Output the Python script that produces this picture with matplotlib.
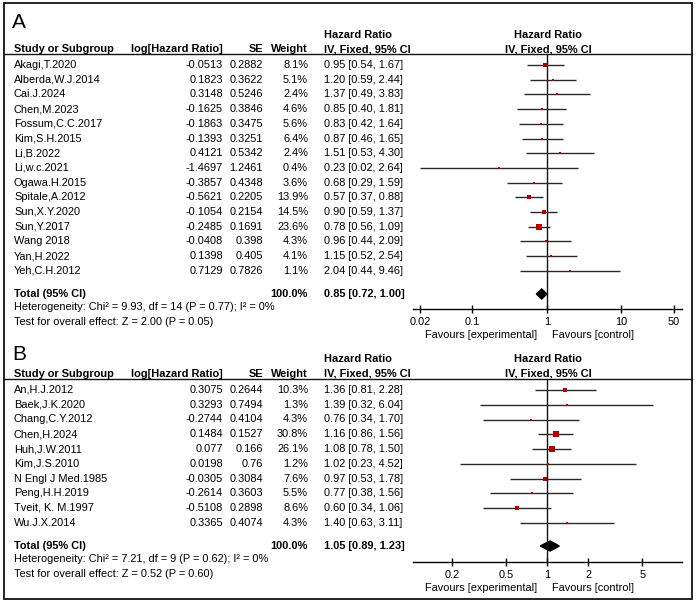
import matplotlib
matplotlib.use('Agg')
import numpy as np
import matplotlib.pyplot as plt
from matplotlib.patches import Rectangle, Polygon

plt.rcParams['font.family'] = ['Liberation Sans', 'DejaVu Sans']

# ---------------- Data: panel A ----------------
studies_A = ["Akagi,T.2020", "Alberda,W.J.2014", "Cai.J.2024", "Chen,M.2023",
             "Fossum,C.C.2017", "Kim,S.H.2015", "Li,B.2022", "Li,w.c.2021",
             "Ogawa.H.2015", "Spitale,A.2012", "Sun,X.Y.2020", "Sun,Y.2017",
             "Wang 2018", "Yan,H.2022", "Yeh,C.H.2012"]
loghr_A = [-0.0513, 0.1823, 0.3148, -0.1625, -0.1863, -0.1393, 0.4121, -1.4697,
           -0.3857, -0.5621, -0.1054, -0.2485, -0.0408, 0.1398, 0.7129]
se_A = [0.2882, 0.3622, 0.5246, 0.3846, 0.3475, 0.3251, 0.5342, 1.2461,
        0.4348, 0.2205, 0.2154, 0.1691, 0.398, 0.405, 0.7826]
weight_A = [8.1, 5.1, 2.4, 4.6, 5.6, 6.4, 2.4, 0.4, 3.6, 13.9, 14.5, 23.6, 4.3, 4.1, 1.1]
hr_A = [0.95, 1.20, 1.37, 0.85, 0.83, 0.87, 1.51, 0.23, 0.68, 0.57, 0.90, 0.78, 0.96, 1.15, 2.04]
lo_A = [0.54, 0.59, 0.49, 0.40, 0.42, 0.46, 0.53, 0.02, 0.29, 0.37, 0.59, 0.56, 0.44, 0.52, 0.44]
hi_A = [1.67, 2.44, 3.83, 1.81, 1.64, 1.65, 4.30, 2.64, 1.59, 0.88, 1.37, 1.09, 2.09, 2.54, 9.46]
total_A = (0.85, 0.72, 1.00)
hetero_A = "Heterogeneity: Chi² = 9.93, df = 14 (P = 0.77); I² = 0%"
test_A = "Test for overall effect: Z = 2.00 (P = 0.05)"
ticks_A = [0.02, 0.1, 1, 10, 50]
ticklabels_A = ["0.02", "0.1", "1", "10", "50"]

# ---------------- Data: panel B ----------------
studies_B = ["An,H.J.2012", "Baek,J.K.2020", "Chang,C.Y.2012", "Chen,H.2024",
             "Huh,J.W.2011", "Kim,J.S.2010", "N Engl J Med.1985", "Peng,H.H.2019",
             "Tveit, K. M.1997", "Wu.J.X.2014"]
loghr_B = [0.3075, 0.3293, -0.2744, 0.1484, 0.077, 0.0198, -0.0305, -0.2614, -0.5108, 0.3365]
se_B = [0.2644, 0.7494, 0.4104, 0.1527, 0.166, 0.76, 0.3084, 0.3603, 0.2898, 0.4074]
weight_B = [10.3, 1.3, 4.3, 30.8, 26.1, 1.2, 7.6, 5.5, 8.6, 4.3]
hr_B = [1.36, 1.39, 0.76, 1.16, 1.08, 1.02, 0.97, 0.77, 0.60, 1.40]
lo_B = [0.81, 0.32, 0.34, 0.86, 0.78, 0.23, 0.53, 0.38, 0.34, 0.63]
hi_B = [2.28, 6.04, 1.70, 1.56, 1.50, 4.52, 1.78, 1.56, 1.06, 3.11]
total_B = (1.05, 0.89, 1.23)
hetero_B = "Heterogeneity: Chi² = 7.21, df = 9 (P = 0.62); I² = 0%"
test_B = "Test for overall effect: Z = 0.52 (P = 0.60)"
ticks_B = [0.2, 0.5, 1, 2, 5]
ticklabels_B = ["0.2", "0.5", "1", "2", "5"]

# ---------------- Layout ----------------
W, H = 696, 604
FS = 7.9
SQ_COLOR = '#b40000'
LINE_COLOR = '#2a2a2a'

fig = plt.figure(figsize=(W / 100, H / 100), dpi=100)
bg = fig.add_axes([0, 0, 1, 1])
bg.set_xlim(0, W)
bg.set_ylim(H, 0)
bg.axis('off')

bg.add_patch(Rectangle((4, 3), 688, 596, fill=False, lw=1.3, ec='#111111'))

X_NAME, X_LOG, X_SE, X_W, X_CI, X_HDR2 = 14, 223, 263, 308, 324, 548
FX0, FX1 = 413, 682


def panel(label, y_label, y_hr, y_hdr, y_line, y_row0, step, y_total, y_het, y_test,
          y_axis, xlim, studies, loghr, se, weight, hr, lo, hi, total, het, test,
          ticks, ticklabels):
    bg.text(12, y_label, label, fontsize=15, va='center', ha='left')
    bg.text(X_CI, y_hr, "Hazard Ratio", fontsize=FS, fontweight='bold', va='center', ha='left')
    bg.text(X_HDR2, y_hr, "Hazard Ratio", fontsize=FS, fontweight='bold', va='center', ha='center')
    hdr = dict(fontsize=FS, fontweight='bold', va='center')
    bg.text(X_NAME, y_hdr, "Study or Subgroup", ha='left', **hdr)
    bg.text(X_LOG, y_hdr, "log[Hazard Ratio]", ha='right', **hdr)
    bg.text(X_SE, y_hdr, "SE", ha='right', **hdr)
    bg.text(X_W, y_hdr, "Weight", ha='right', **hdr)
    bg.text(X_CI, y_hdr, "IV, Fixed, 95% CI", ha='left', **hdr)
    bg.text(X_HDR2, y_hdr, "IV, Fixed, 95% CI", ha='center', **hdr)
    bg.plot([4, 692], [y_line, y_line], color='#111111', lw=1.0)

    ax = fig.add_axes([FX0 / W, 1 - y_axis / H, (FX1 - FX0) / W, (y_axis - y_line) / H])
    ax.set_xscale('log')
    ax.set_xlim(*xlim)
    ax.set_ylim(y_axis, y_line)
    ax.patch.set_alpha(0)
    for s in ('top', 'left', 'right'):
        ax.spines[s].set_visible(False)
    ax.spines['bottom'].set_linewidth(1.0)
    ax.set_yticks([])
    ax.set_xticks(ticks)
    ax.set_xticklabels(ticklabels)
    ax.minorticks_off()
    ax.tick_params(axis='x', direction='inout', length=6, width=1.0, pad=3, labelsize=FS)
    ax.axvline(1, color='#111111', lw=1.0)

    for i, name in enumerate(studies):
        y = y_row0 + i * step
        rt = dict(fontsize=FS, va='center')
        bg.text(X_NAME, y, name, ha='left', **rt)
        bg.text(X_LOG, y, str(loghr[i]), ha='right', **rt)
        bg.text(X_SE, y, str(se[i]), ha='right', **rt)
        bg.text(X_W, y, f"{weight[i]:.1f}%", ha='right', **rt)
        bg.text(X_CI, y, f"{hr[i]:.2f} [{lo[i]:.2f}, {hi[i]:.2f}]", ha='left', **rt)
        ax.plot([lo[i], hi[i]], [y, y], color=LINE_COLOR, lw=1.0, solid_capstyle='butt')
        ms = max(1.1 * np.sqrt(weight[i]), 2.2) * 0.72
        ax.plot([hr[i]], [y], marker='s', ms=ms, color=SQ_COLOR, mew=0, ls='none')

    bt = dict(fontsize=FS, fontweight='bold', va='center')
    bg.text(X_NAME, y_total, "Total (95% CI)", ha='left', **bt)
    bg.text(X_W, y_total, "100.0%", ha='right', **bt)
    bg.text(X_CI, y_total, f"{total[0]:.2f} [{total[1]:.2f}, {total[2]:.2f}]", ha='left', **bt)
    ax.add_patch(Polygon([(total[1], y_total), (total[0], y_total - 5),
                          (total[2], y_total), (total[0], y_total + 5)],
                         closed=True, color='black'))
    bg.text(X_NAME, y_het, het, fontsize=FS, ha='left', va='center')
    bg.text(X_NAME, y_test, test, fontsize=FS, ha='left', va='center')

    bg.text(537, y_axis + 26, "Favours [experimental]", fontsize=FS, ha='right', va='center')
    bg.text(552, y_axis + 26, "Favours [control]", fontsize=FS, ha='left', va='center')


panel("A", 22, 35, 49, 54, 65, 14.7, 294, 307, 322, 309, (0.0159, 65.0),
      studies_A, loghr_A, se_A, weight_A, hr_A, lo_A, hi_A, total_A, hetero_A, test_A,
      ticks_A, ticklabels_A)
panel("B", 354, 359, 374, 379, 390, 14.75, 546, 559, 574, 562, (0.1034, 9.79),
      studies_B, loghr_B, se_B, weight_B, hr_B, lo_B, hi_B, total_B, hetero_B, test_B,
      ticks_B, ticklabels_B)

fig.savefig("out.png", dpi=100)
